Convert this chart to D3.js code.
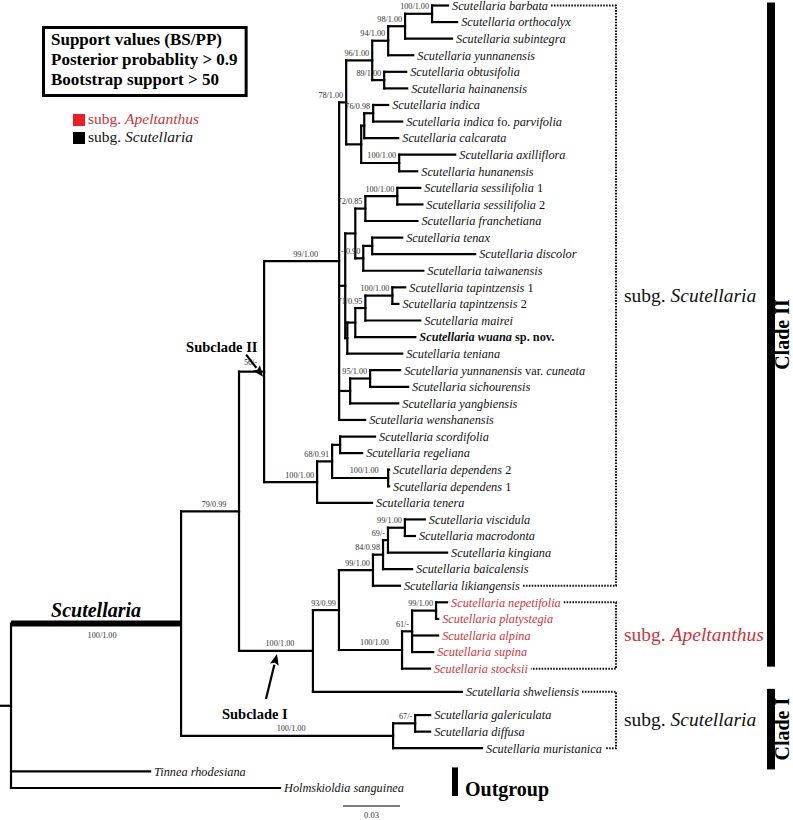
<!DOCTYPE html>
<html><head><meta charset="utf-8">
<script src="https://cdn.jsdelivr.net/npm/d3@7"></script>
<style>
html,body{margin:0;padding:0;background:#fff;}
svg{display:block;}
text{font-family:"Liberation Serif","Times New Roman",serif;white-space:pre;}
</style></head>
<body><svg id="chart" width="793" height="820"></svg>
<script>
// ---------------- DATA ----------------
// Phylogeny (Newick, branch lengths in substitutions/site, internal labels = BS/PP)
const treeNewick = `(
(
(
(
 (
  (
   (
    (
     (
      ((Scutellaria_barbata:0.0084,Scutellaria_orthocalyx:0.0132)100/1.00:0.0142,Scutellaria_subintegra:0.0247)98/1.00:0.0089,
      Scutellaria_yunnanensis:0.0132
     )94/1.00:0.0084,
     (Scutellaria_obtusifolia:0.0116,Scutellaria_hainanensis:0.0121)89/1.00:0.0063
    )96/1.00:0.0137,
    (
     ((Scutellaria_indica:0.0079,Scutellaria_indica_fo._parvifolia:0.0153)76/0.98:0.0047,Scutellaria_calcarata:0.0179):0.0016,
     (Scutellaria_axilliflora:0.0295,Scutellaria_hunanensis:0.0095)100/1.00:0.0200
    ):0.0079
   )78/1.00:0.0037,
   (
    (
     ((Scutellaria_sessilifolia_1:0.0121,Scutellaria_sessilifolia_2:0.0132)100/1.00:0.0168,Scutellaria_franchetiana:0.0274)72/0.85:0.0053,
     ((Scutellaria_tenax:0.0158,Scutellaria_discolor:0.0542):0.0047,Scutellaria_taiwanensis:0.0316)-/0.90:0.0042
    ):0.0053,
    (
     (
      ((Scutellaria_tapintzensis_1:0.0068,Scutellaria_tapintzensis_2:0.0032)100/1.00:0.0142,Scutellaria_mairei:0.0289)71/0.95:0.0053,
      Scutellaria_wuana_sp._nov.:0.0316
     ):0.0042,
     Scutellaria_teniana:0.0289
    ):0.0011
   ):0.0032,
   (
    (Scutellaria_yunnanensis_var._cuneata:0.0158,Scutellaria_sichourensis:0.0200)95/1.00:0.0105,
    Scutellaria_yangbiensis:0.0253
   ):0.0058,
   Scutellaria_wenshanensis:0.0137
  )99/1.00:0.0395,
  (
   (
    (Scutellaria_scordifolia:0.0184,Scutellaria_regeliana:0.0116):0.0042,
    (Scutellaria_dependens_2:0.0005,Scutellaria_dependens_1:0.0005)100/1.00:0.0295
   )68/0.91:0.0079,
   Scutellaria_tenera:0.0289
  )100/1.00:0.0279
 )56/-:0.0132,
 (
  (
   (
    (
     ((Scutellaria_viscidula:0.0105,Scutellaria_macrodonta:0.0053)99/1.00:0.0089,Scutellaria_kingiana:0.0311)69/-:0.0026,
     Scutellaria_baicalensis:0.0153
    )84/0.98:0.0053,
    Scutellaria_likiangensis:0.0142
   )99/1.00:0.0179,
   (
    (
     (Scutellaria_nepetifolia:0.0058,Scutellaria_platystegia:0.0011)99/1.00:0.0126,
     Scutellaria_alpina:0.0137,
     Scutellaria_supina:0.0111
    )61/-:0.0053,
    Scutellaria_stocksii:0.0147
   )100/1.00:0.0332
  )93/0.99:0.0137,
  Scutellaria_shweliensis:0.0784
 )100/1.00:0.0389
)79/0.99:0.0305,
(
 (Scutellaria_galericulata:0.0079,Scutellaria_diffusa:0.0079)67/-:0.0116,
 Scutellaria_muristanica:0.0468
)100/1.00:0.1116
)100/1.00:0.0895,
Tinnea_rhodesiana:0.0732,
Holmskioldia_sanguinea:0.1416
):0.0058);`;

const apeltanthusTaxa = ["Scutellaria nepetifolia","Scutellaria platystegia","Scutellaria alpina","Scutellaria supina","Scutellaria stocksii"];
const boldTaxa = ["Scutellaria wuana sp. nov."];
const uprightWords = ["fo.","var.","sp.","nov.","1","2"];
const gapBefore = ["Scutellaria shweliensis","Scutellaria galericulata","Tinnea rhodesiana"];

const bracketFrom = ["Scutellaria barbata","Scutellaria nepetifolia","Scutellaria shweliensis"];
const bracketTo   = ["Scutellaria likiangensis","Scutellaria stocksii","Scutellaria muristanica"];
const bracketName = ["Scutellaria","Apeltanthus","Scutellaria"];
const bracketRed  = [false,true,false];

const cladeNames = ["Clade II","Clade I"];
const cladeFrom  = ["Scutellaria barbata","Scutellaria shweliensis"];
const cladeTo    = ["Scutellaria stocksii","Tinnea rhodesiana"];

const outgroupTaxa = ["Tinnea rhodesiana","Holmskioldia sanguinea"];
const legendLines = ["Support values (BS/PP)","Posterior probablity > 0.9","Bootstrap support > 50"];
const legendNames = ["Apeltanthus","Scutellaria"];
const legendRed = [true,false];
const scaleBarValue = 0.03;

// ---------------- PARSE ----------------
function parseNewick(str){
  str = str.replace(/\s+/g,"");
  let i = 0;
  function node(){
    const n = {children:[]};
    if(str[i]==="("){
      i++;
      n.children.push(node());
      while(str[i]===","){ i++; n.children.push(node()); }
      i++;
    }
    let name="";
    while(i<str.length && !"(),:;".includes(str[i])) name += str[i++];
    n.name = name.replace(/_/g," ");
    n.length = 0;
    if(str[i]===":"){ i++; let num=""; while(i<str.length && !"(),;".includes(str[i])) num += str[i++]; n.length = +num; }
    if(!n.children.length) delete n.children;
    return n;
  }
  return node();
}

const RED_TEXT = "#c9363e", RED_BOX = "#ee1c24";
const svg = d3.select("#chart");
const root = d3.hierarchy(parseNewick(treeNewick));

root.eachBefore(d => { d.dist = d.parent ? d.parent.dist + d.data.length : 0; });
const leaves = root.leaves();
let r = 0;
leaves.forEach((l,i) => { if(i>0) r += 1 + (gapBefore.includes(l.data.name) ? 0.4 : 0); l.row = r; });

const xScale = d3.scaleLinear().domain([0, 0.25]).range([0, 475]);
const yScale = d3.scaleLinear().domain([0, 47.2]).range([5.5, 788]);

root.eachAfter(d => {
  d.px = xScale(d.dist);
  if(d.children) d.py = (d.children[0].py + d.children[d.children.length-1].py)/2;
  else d.py = yScale(d.row);
});

const byName = n => leaves.find(l => l.data.name === n);
function lca(a,b){ const A = byName(a).ancestors(); return byName(b).ancestors().find(x => A.includes(x)); }
const scutNode = lca("Scutellaria barbata","Scutellaria muristanica");
const sub2Node = lca("Scutellaria barbata","Scutellaria tenera");
const sub1Node = lca("Scutellaria viscidula","Scutellaria shweliensis");

// ---------------- BRANCHES ----------------
const g = svg.append("g");
root.descendants().forEach(d => {
  if(d.parent){
    g.append("path")
      .attr("d", `M${d.parent.px},${d.py}H${d.px}`)
      .attr("stroke","#000").attr("fill","none")
      .attr("stroke-width", d === scutNode ? 6 : 2.2)
      .attr("stroke-linecap", d === scutNode ? "butt" : "square");
  }
  if(d.children && d.children.length>1){
    g.append("path")
      .attr("d", `M${d.px},${d.children[0].py}V${d.children[d.children.length-1].py}`)
      .attr("stroke","#000").attr("fill","none").attr("stroke-width",2.2).attr("stroke-linecap","square");
  }
});

// ---------------- SUPPORT LABELS ----------------
root.descendants().forEach(d => {
  if(!d.children || !d.data.name || !d.parent) return;
  const bl = d.px - d.parent.px;
  const t = g.append("text").attr("font-size",8.2).attr("fill","#333").text(d.data.name);
  if(d === scutNode){
    t.attr("x",(d.parent.px+d.px)/2+6).attr("y",d.py+14).attr("text-anchor","middle");
  } else if(d === sub2Node){
    t.attr("x",d.px-7).attr("y",d.py-7).attr("text-anchor","end");
  } else if(bl >= 56){
    t.attr("x",(d.parent.px+d.px)/2+4).attr("y",d.py-4.5).attr("text-anchor","middle");
  } else {
    t.attr("x",d.px-3).attr("y",d.py-4.5).attr("text-anchor","end");
  }
});

// Scutellaria genus label
g.append("text").attr("x",(scutNode.parent.px+scutNode.px)/2).attr("y",scutNode.py-7)
  .attr("text-anchor","middle").attr("font-size",20).attr("font-weight","bold").attr("font-style","italic")
  .text("Scutellaria");

// ---------------- LEAF LABELS ----------------
const labelEnd = {};
leaves.forEach(l => {
  const name = l.data.name;
  const t = g.append("text").attr("x", l.px+4).attr("y", l.py+4.3).attr("font-size",12.3)
    .attr("fill", apeltanthusTaxa.includes(name) ? RED_TEXT : "#111")
    .attr("font-weight", boldTaxa.includes(name) ? "bold" : "normal");
  const words = name.split(" ");
  words.forEach((w,i) => {
    t.append("tspan").attr("font-style", uprightWords.includes(w) ? "normal" : "italic")
      .text(w + (i<words.length-1 ? " " : ""));
  });
  labelEnd[name] = l.px + 4 + t.node().getComputedTextLength();
});

// ---------------- BRACKETS ----------------
const bx = 616;
bracketFrom.forEach((f,i) => {
  const a = byName(f), b = byName(bracketTo[i]);
  g.append("path").attr("d",`M${labelEnd[f]+3},${a.py}H${bx}V${b.py}H${labelEnd[bracketTo[i]]+3}`)
    .attr("stroke","#111").attr("stroke-width",2).attr("stroke-dasharray","1.6,1.3").attr("fill","none");
  const t = g.append("text").attr("x",624).attr("y",(a.py+b.py)/2+6).attr("font-size",19.5)
    .attr("fill", bracketRed[i] ? RED_TEXT : "#111");
  t.append("tspan").text("subg. ");
  t.append("tspan").attr("font-style","italic").text(bracketName[i]);
});

// ---------------- CLADE BARS ----------------
cladeNames.forEach((c,i) => {
  const y0 = byName(cladeFrom[i]).py - 3, y1 = byName(cladeTo[i]).py - 2;
  g.append("rect").attr("x",767).attr("y",y0).attr("width",8).attr("height",y1-y0).attr("fill","#000");
  g.append("text").attr("transform",`translate(789,${(y0+y1)/2}) rotate(-90)`)
    .attr("text-anchor","middle").attr("font-size",20).attr("font-weight","bold").text(c);
});
{
  const a = byName(outgroupTaxa[0]), b = byName(outgroupTaxa[1]);
  g.append("rect").attr("x",452).attr("y",a.py-4).attr("width",6).attr("height",b.py-a.py+12).attr("fill","#000");
  g.append("text").attr("x",465).attr("y",b.py+8).attr("font-size",20).attr("font-weight","bold").text("Outgroup");
}

// ---------------- SUBCLADE ARROWS ----------------
function arrow(x1,y1,x2,y2){
  const ang = Math.atan2(y2-y1,x2-x1), L = 11, W = 4.5;
  const bxp = x2 - L*Math.cos(ang), byp = y2 - L*Math.sin(ang);
  g.append("line").attr("x1",x1).attr("y1",y1).attr("x2",bxp).attr("y2",byp).attr("stroke","#000").attr("stroke-width",2.2);
  const px = -Math.sin(ang)*W, py = Math.cos(ang)*W;
  g.append("path").attr("d",`M${x2},${y2}L${bxp+px},${byp+py}L${bxp+2*Math.cos(ang)},${byp+2*Math.sin(ang)}L${bxp-px},${byp-py}Z`).attr("fill","#000");
}
{
  const tx = sub2Node.px-1, ty = sub2Node.py+5;
  arrow(tx-17, ty-22, tx, ty);
  g.append("text").attr("x",tx-77).attr("y",ty-25).attr("font-size",14.5).attr("font-weight","bold").text("Subclade II");
  const sx = (sub1Node.parent.px+sub1Node.px)/2+1, sy = sub1Node.py+3;
  arrow(sx-11, sy+45, sx, sy);
  g.append("text").attr("x",sx-55).attr("y",sy+65).attr("font-size",14.5).attr("font-weight","bold").text("Subclade I");
}

// ---------------- SCALE BAR ----------------
{
  const x0 = 343, len = xScale(scaleBarValue) - xScale(0);
  g.append("path").attr("d",`M${x0},806H${x0+len}`).attr("stroke","#000").attr("stroke-width",1.2);
  g.append("text").attr("x",x0+len/2).attr("y",818).attr("text-anchor","middle").attr("font-size",8.5).attr("fill","#333").text(scaleBarValue.toFixed(2));
}

// ---------------- LEGEND ----------------
{
  const box = g.append("rect").attr("x",43.5).attr("y",27.5).attr("height",68).attr("fill","none").attr("stroke","#000").attr("stroke-width",3);
  let maxW = 0;
  legendLines.forEach((s,i) => {
    const t = g.append("text").attr("x",51).attr("y",45+i*20).attr("font-size",17).attr("font-weight","bold").text(s);
    maxW = Math.max(maxW, t.node().getComputedTextLength());
  });
  box.attr("width", maxW + 16);
}
legendNames.forEach((n,i) => {
  g.append("rect").attr("x",73).attr("y",114+i*18).attr("width",12).attr("height",12).attr("fill",legendRed[i]?RED_BOX:"#000");
  const t = g.append("text").attr("x",88).attr("y",124+i*18).attr("font-size",15.5).attr("fill",legendRed[i]?RED_TEXT:"#111");
  t.append("tspan").text("subg. ");
  t.append("tspan").attr("font-style","italic").text(n);
});
</script>
</body></html>
